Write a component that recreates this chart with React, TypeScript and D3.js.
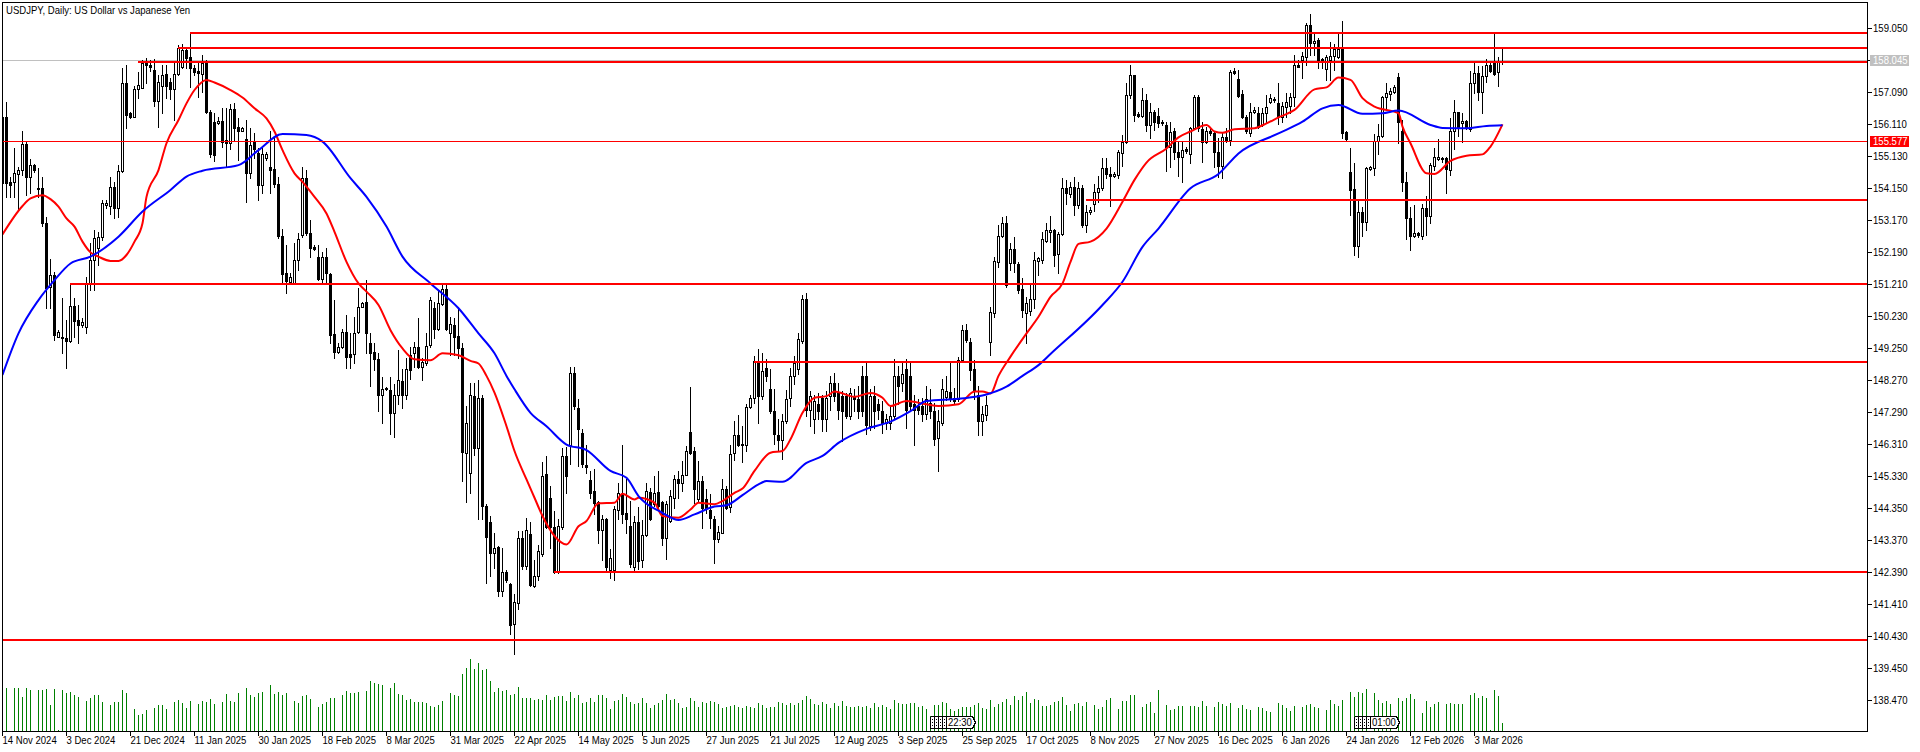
import React from "react";
import * as d3 from "d3";

type Row = [number, number, number, number];

const WIDTH = 1920;
const HEIGHT = 752;

const title = "USDJPY, Daily:  US Dollar vs Japanese Yen";

const dateLabels = ["14 Nov 2024","3 Dec 2024","21 Dec 2024","11 Jan 2025","30 Jan 2025","18 Feb 2025","8 Mar 2025","31 Mar 2025","22 Apr 2025","14 May 2025","5 Jun 2025","27 Jun 2025","21 Jul 2025","12 Aug 2025","3 Sep 2025","25 Sep 2025","17 Oct 2025","8 Nov 2025","27 Nov 2025","16 Dec 2025","6 Jan 2026","24 Jan 2026","12 Feb 2026","3 Mar 2026"];
const priceTicks = ["159.050","158.070","157.090","156.110","155.130","154.150","153.170","152.190","151.210","150.230","149.250","148.270","147.290","146.310","145.330","144.350","143.370","142.390","141.410","140.430","139.450","138.470"];

// open, high, low, close per daily bar
const candlesA: Row[] = [
[156.32,156.32,153.8,154.28],[156.32,156.78,153.87,154.28],[154.33,154.49,153.87,154.23],[154.31,155.35,153.87,154.59],[154.57,154.79,153.47,154.69],[154.69,155.88,154.54,155.49],[155.49,155.56,153.93,154.49],[154.49,155.02,153.98,154.84],[154.84,154.89,154.64,154.69],[154.13,154.74,153.87,154.13],
[154.13,154.49,152.99,153.06],[153.06,153.26,150.46,151.07],[151.10,151.96,150.46,151.48],[151.48,151.58,149.49,149.64],[149.59,149.79,149.57,149.74],[149.59,150.76,149.08,149.54],[149.54,150.10,148.64,149.47],[149.47,151.20,149.44,150.53],[150.53,150.76,149.59,150.08],[150.10,150.56,149.39,149.95],
[149.95,150.15,149.90,150.04],[149.90,151.43,149.71,151.20],[151.20,152.45,151.02,151.94],[151.94,152.85,151.02,152.60],[152.29,152.80,151.78,152.65],[152.65,153.77,152.55,153.67],[153.61,153.77,153.52,153.67],[153.59,154.49,153.36,154.16],[154.16,154.33,153.21,153.52],[153.52,154.84,153.26,154.67],
[154.67,157.80,154.64,157.34],[157.34,157.91,155.97,156.37],[156.43,156.48,156.27,156.32],[156.32,157.26,156.30,157.16],[157.16,157.70,156.89,157.29],[157.21,158.06,157.19,157.96],[157.96,158.11,157.34,157.90],[157.90,158.06,157.73,157.85],[157.75,158.08,156.65,156.80],[156.80,157.60,156.02,157.37],
[157.27,157.91,156.43,157.61],[157.63,157.91,156.89,157.27],[157.40,157.50,156.85,157.16],[157.16,157.96,156.22,157.63],[157.63,158.52,157.60,158.42],[157.85,158.54,157.80,158.37],[158.37,158.47,157.80,158.11],[158.14,158.91,157.22,157.80],[157.80,157.91,157.60,157.70],[157.72,157.96,156.92,157.65],
[157.63,158.21,157.09,157.98],[157.98,158.06,156.43,156.48],[156.48,156.53,155.10,155.18],[156.17,156.43,154.98,155.15],[156.12,156.32,156.10,156.20],[156.20,156.58,155.41,155.56],[155.61,156.58,154.81,155.51],[155.51,156.71,155.34,156.55],[156.55,156.75,155.61,155.97],[156.02,156.27,155.00,155.87],
[155.90,156.02,155.87,155.97],[155.63,156.22,153.72,154.59],[154.59,155.97,154.44,155.46],[155.56,155.82,155.05,155.34],[155.20,155.35,153.77,154.23],[154.23,155.35,153.98,155.18],[155.06,155.25,155.00,155.18],[154.79,155.87,154.00,154.69],[154.72,155.71,154.18,154.25],[154.25,154.49,152.60,152.68],
[152.68,152.90,151.22,151.51],[151.53,152.40,150.94,151.30],[151.27,151.53,151.22,151.43],[151.22,152.45,151.20,151.94],[151.94,152.75,151.63,152.58],[152.70,154.79,152.65,154.44],[154.44,154.69,152.70,152.75],[152.75,153.16,152.02,152.29],[152.34,152.40,152.24,152.26],[152.04,152.40,151.32,151.37],
];
const candlesB: Row[] = [
[151.37,152.19,151.22,152.02],[152.02,152.29,151.22,151.53],[151.51,151.53,149.39,149.64],[149.66,150.71,148.93,149.13],[149.13,149.39,149.08,149.28],[149.28,149.84,149.23,149.72],[149.72,150.25,148.62,148.96],[149.06,149.69,148.62,148.96],[149.06,150.20,148.77,149.69],[149.72,151.07,149.69,150.51],
[150.49,150.66,150.49,150.61],[150.66,151.32,149.08,149.69],[149.39,149.69,148.08,149.08],[149.13,149.39,148.57,148.90],[148.90,149.08,147.31,147.82],[147.82,148.36,146.96,147.98],[147.98,148.06,147.96,148.03],[147.96,148.36,146.60,147.26],[147.26,148.13,146.52,147.79],[147.79,149.18,147.54,148.26],
[148.23,148.59,147.41,147.80],[147.79,148.93,147.69,148.59],[149.03,149.28,148.31,148.57],[149.10,149.44,148.67,149.28],[149.28,150.15,148.62,148.67],[148.67,148.93,148.26,148.82],[148.77,149.69,148.72,149.30],[149.33,150.81,149.28,150.71],[150.46,150.66,149.54,149.84],[149.84,151.02,149.79,150.61],
[150.59,151.22,150.56,151.04],[151.04,151.22,149.79,149.84],[149.69,150.20,149.03,149.98],[149.95,150.15,149.03,149.59],[149.61,150.46,148.93,149.23],[149.23,149.39,145.17,146.06],[146.04,147.47,144.53,146.96],[145.43,148.16,144.81,147.82],[147.77,148.16,145.96,146.19],[146.19,148.26,144.00,147.72],
[147.72,147.79,144.00,144.41],[144.42,144.46,142.06,143.47],[143.92,144.10,142.26,142.97],[142.97,143.59,142.52,143.13],[143.15,143.18,141.65,141.80],[141.80,143.11,141.65,142.38],[142.38,142.44,142.08,142.14],[142.01,142.06,140.48,140.76],[140.81,141.70,139.89,141.48],[141.45,143.64,141.24,143.44],
[143.44,143.64,142.49,142.57],[142.57,144.03,142.49,143.66],[143.54,143.91,141.96,141.98],[141.96,142.77,141.94,142.26],[142.26,143.20,142.14,143.03],[142.93,145.75,142.88,145.34],[145.40,145.94,143.74,143.77],[144.64,145.02,143.13,143.77],[143.77,144.25,142.37,142.40],[142.40,144.00,142.37,143.81],
[143.77,146.19,143.69,145.94],[145.94,146.22,144.81,145.34],[146.29,148.67,145.68,148.47],[148.47,148.67,147.37,147.47],[147.42,147.67,145.63,146.75],[146.63,146.75,145.61,145.68],[145.66,146.29,145.42,145.61],[145.19,145.48,144.66,144.81],[144.87,145.53,144.15,144.51],[144.53,144.56,143.28,143.66],
[143.66,144.12,142.77,144.00],[144.00,144.05,142.41,142.54],[142.44,143.08,142.21,142.82],[142.44,144.41,142.13,144.33],[144.27,145.10,144.00,144.81],[144.79,146.29,143.90,144.17],[144.18,145.22,143.59,144.02],[143.79,144.56,142.54,142.62],[142.54,144.10,142.41,143.91],[143.91,144.38,142.47,142.72],
];
const candlesC: Row[] = [
[142.74,143.98,142.55,143.51],[143.51,145.10,143.49,144.86],[144.83,144.97,143.98,144.00],[144.46,145.33,144.41,144.81],[144.83,145.48,144.35,144.41],[144.53,144.56,143.20,143.44],[143.44,144.56,142.79,144.46],[143.95,144.89,143.93,144.71],[144.66,145.37,144.35,145.22],[145.22,145.48,144.66,145.10],
[145.10,145.78,144.86,145.35],[145.37,146.24,145.35,146.09],[146.67,148.05,145.99,146.02],[146.09,146.22,144.51,144.92],[144.61,145.78,144.56,145.17],[145.17,145.32,143.74,144.35],[144.63,144.92,144.20,144.35],[144.30,144.76,143.74,144.05],[144.02,144.10,142.67,143.39],[143.39,143.79,143.31,143.61],
[143.59,145.24,143.57,144.92],[144.92,145.02,144.32,144.35],[144.39,146.26,144.22,146.01],[146.02,147.01,145.81,146.57],[146.57,147.18,146.24,146.29],[146.32,146.85,145.76,146.26],[146.26,147.52,146.09,147.44],[147.44,147.79,147.42,147.72],[147.72,148.99,147.55,148.85],[148.79,149.20,146.94,147.77],
[147.77,149.10,147.67,148.54],[148.64,148.90,148.23,148.39],[147.98,148.59,147.26,147.33],[147.31,147.98,146.31,146.60],[146.57,147.06,146.12,146.43],[146.43,147.21,145.85,147.01],[147.01,147.96,146.96,147.67],[147.72,148.64,147.47,148.39],[148.39,148.99,148.13,148.79],[148.59,149.71,148.44,149.51],
[149.46,150.88,149.41,150.73],[150.73,150.92,147.16,147.36],[147.36,147.93,146.85,147.77],[147.06,147.82,146.63,147.62],[147.52,147.87,147.06,147.31],[147.72,147.82,146.70,147.06],[147.08,147.93,146.70,147.72],[147.77,148.39,147.36,148.16],[148.18,148.49,147.62,147.77],[147.87,148.18,147.06,147.36],
[147.77,147.93,146.39,147.33],[147.77,147.87,147.11,147.16],[147.16,148.03,147.08,147.87],[147.77,147.98,147.31,147.67],[147.69,148.08,147.11,147.31],[148.39,148.69,147.16,147.31],[148.39,148.79,146.60,146.90],[146.85,147.98,146.73,147.77],[147.77,148.08,146.80,147.31],[147.52,147.67,147.06,147.36],
[147.31,147.62,146.65,146.96],[146.96,147.21,146.75,147.06],[146.96,147.47,146.77,147.16],[147.16,148.90,147.11,148.39],[148.39,148.69,147.52,148.08],[148.18,148.79,147.93,148.44],[148.59,148.90,146.80,147.36],[148.39,148.79,147.36,147.47],[147.52,147.82,146.29,147.36],[147.47,147.67,147.21,147.36],
[147.47,147.72,147.01,147.21],[147.21,148.08,147.06,147.67],[147.57,147.98,147.11,147.31],[147.31,147.57,146.26,146.45],[146.48,147.36,145.48,147.01],[146.96,148.28,146.90,147.98],[147.75,148.39,147.65,147.93],[147.89,148.79,147.62,147.67],[147.72,148.03,147.57,147.62],[147.67,148.98,147.62,148.87],
[148.87,149.95,148.82,149.79],[149.79,149.98,149.44,149.49],[149.44,149.54,148.26,148.57],[148.59,148.87,147.67,147.93],[147.79,148.08,146.58,147.01],[147.01,147.47,146.58,147.21],[147.18,147.77,147.04,147.49],
];
const candlesD: Row[] = [
[149.44,150.51,149.03,150.35],[150.33,152.04,150.18,151.91],[151.89,153.01,151.73,152.68],[152.68,153.26,152.65,153.06],[153.06,153.28,151.12,151.17],[151.83,152.45,151.63,152.27],[152.27,152.63,151.58,151.83],[151.81,151.89,150.92,151.02],[151.04,151.40,150.20,150.40],[150.32,150.81,149.39,150.63],
[150.38,151.22,150.25,150.73],[150.73,152.19,150.46,151.94],[151.91,152.04,151.48,151.99],[151.94,152.80,151.83,152.57],[152.53,153.06,152.50,152.87],[152.80,153.28,152.50,152.87],[152.87,152.90,151.75,152.09],[152.11,152.80,151.55,152.72],[152.72,154.44,152.70,154.13],[154.13,154.38,153.65,154.00],
[153.95,154.33,153.87,154.18],[154.18,154.49,153.31,153.62],[153.62,154.33,153.52,154.13],[154.13,154.23,152.96,153.01],[153.01,153.62,152.80,153.42],[153.40,153.57,153.36,153.47],[153.65,154.25,153.45,154.03],[154.03,154.51,153.72,154.13],[154.13,155.05,154.08,154.76],[154.76,155.05,154.44,154.57],
[154.57,154.79,153.60,154.52],[154.52,154.62,154.49,154.56],[154.54,155.30,154.44,155.25],[155.22,155.76,154.82,155.56],[155.54,157.34,155.51,156.99],[156.99,157.91,156.89,157.60],[157.60,157.60,156.20,156.37],[156.40,156.48,156.32,156.35],[156.35,157.19,156.32,156.84],[156.84,157.02,155.89,156.07],
[156.07,156.73,155.66,156.46],[156.48,156.53,155.92,156.17],[156.35,156.58,156.00,156.14],[156.13,156.22,156.07,156.15],[156.07,156.17,154.67,155.41],[155.41,156.17,154.79,155.84],[155.87,155.97,155.02,155.23],[155.23,155.56,154.52,155.10],[155.10,155.56,154.33,155.30],[155.32,155.41,155.20,155.28],
[155.17,156.02,154.90,155.97],[155.97,156.99,155.94,156.92],[156.94,156.99,155.87,155.97],[155.94,156.17,154.95,155.56],[155.56,156.02,155.51,155.87],[155.90,155.97,155.76,155.82],[155.82,155.87,154.79,155.25],[155.25,155.66,154.49,154.81],[154.81,155.82,154.44,155.69],[155.71,155.97,155.56,155.61],
[155.61,157.75,155.46,157.70],[157.73,157.80,157.63,157.67],[157.47,157.75,156.94,156.97],[157.01,157.14,156.27,156.30],[156.30,156.37,155.82,155.90],[155.82,156.73,155.73,156.48],[156.48,156.63,156.43,156.53],[156.45,156.63,155.97,156.02],[156.07,156.58,156.04,156.45],[156.43,156.99,156.12,156.63],
[156.78,157.01,156.73,156.89],[156.82,156.94,156.78,156.87],[156.73,157.34,156.10,156.32],
];
const candlesE: Row[] = [
[156.30,156.78,156.17,156.65],[156.63,157.04,156.32,156.78],[156.65,157.06,156.43,156.94],[156.94,158.21,156.65,157.91],[157.91,158.06,157.83,157.85],[158.06,158.31,157.50,158.19],[158.16,159.18,157.91,159.13],[159.13,159.47,158.21,158.59],[158.59,158.88,158.21,158.65],[158.67,158.72,157.80,158.06],
[158.08,158.11,157.80,158.03],[157.78,158.21,157.45,158.16],[158.06,158.60,157.45,158.18],[158.19,158.55,157.75,158.39],[158.16,158.88,158.11,158.39],[158.42,159.26,155.68,155.82],[155.84,155.87,155.61,155.63],[154.62,155.35,153.31,154.08],[154.10,154.90,152.09,152.37],[152.37,153.77,152.04,153.40],
[153.40,153.57,152.67,153.11],[153.11,154.79,152.85,154.76],[154.72,154.82,154.69,154.77],[154.74,155.78,154.54,155.59],[155.59,156.10,155.18,155.73],[155.74,156.96,155.71,156.92],[156.92,157.34,156.53,157.04],[157.02,157.19,156.84,157.12],[157.09,157.29,157.06,157.22],[157.53,157.65,155.53,156.17],
[155.87,156.22,154.06,154.33],[154.33,154.64,152.57,153.21],[153.21,153.57,152.24,152.67],[152.67,153.62,152.63,152.75],[152.75,152.80,152.63,152.69],[152.67,153.65,152.58,153.52],[153.52,153.91,152.70,153.28],[153.28,154.90,153.06,154.85],[154.82,155.35,154.69,155.08],[155.04,155.63,155.00,155.08],
[155.04,155.10,154.95,155.07],[155.05,155.10,154.00,154.71],[154.69,156.27,154.54,155.88],[155.87,156.84,155.33,156.46],[156.46,156.48,155.73,156.00],[156.14,156.43,155.54,156.20],[156.19,156.22,155.94,155.97],[155.94,157.73,155.89,157.34],[157.34,157.99,157.04,157.67],[157.65,157.89,156.84,157.09],
[157.09,157.89,156.45,157.57],[157.57,158.08,157.37,157.91],[157.91,157.96,157.70,157.73],[157.98,158.85,157.60,157.63],[157.70,158.16,157.26,158.01],[158.02,158.42,157.94,158.04],
];

const volumesA = [0,128,0,129,129,102,129,123,0,123,123,126,78,126,3,123,114,117,108,102,0,90,99,108,108,87,0,78,87,87,123,114,0,66,48,51,63,0,69,78,78,66,0,87,93,84,69,90,0,81,90,87,96,81,0,87,111,90,87,114,0,129,108,102,114,117,3,138,111,117,108,114,0,90,84,105,108,96,0,72,81,87,99,99,0,108,120,114,114,117,0,120,150,144,141,138,0,129,144,111,108,93,96,87,87,87,84,75,72,78,90,0];
const volumesB = [114,108,105,171,189,216,186,204,183,186,150,117,129,120,123,108,111,132,100,100,99,93,96,93,108,93,102,105,105,90,117,99,108,84,87,99,87,108,108,99,66,90,93,111,102,87,81,84];
const volumesC = [99,84,70,78,84,93,111,93,96,84,69,72,99,90,72,87,84,90,87,81,69,72,75,78,72,69,75,72,69,84,78,69,72,72,87,84,78,84,78,84,93,105,96,81,78,87,81,69,84,75,90,75,72,72,75,72,75,69,84,72,78,72,65,93,84,81,81,84,84,72,75,65,45,78,78,87,84,65,60,65,72,72,72,78,84,69,66,93,72,81,87,96,78,105,93,105,117,84,96,93,75,75,78,87,90,102,78,60,81,84,75,87,0,78,66,72,93,99,0,65,90,90,108,108,0,72,81,87,54,123,0,78,63,66,75,75,0,75,75,72,90,75,0,72,87,81,75,84,0,69,78,66,63,0,72,69,60,57,0,84];
const volumesD = [78,69,60,75,0,72,78,81,72,69,0,63,93,81,75,93,0,117,102,117,114,126,0,114,93,84,90,81,0,99,90,99,111,96,0,54,90,72,81,87,0,81,84,81,81,81,0,108,114,99,105,99,3,123,105,24];

const fastMa: [number, number][] = [[0,152.72],[5,153.59],[7,153.82],[10,153.92],[12,153.80],[14,153.57],[16,153.21],[18,152.96],[20,152.50],[22,152.17],[24,152.04],[27,151.91],[29,151.91],[31,152.09],[33,152.50],[35,153.06],[36,153.87],[39,154.69],[41,155.51],[44,156.22],[46,156.73],[48,157.14],[51,157.45],[53,157.37],[57,157.14],[60,156.91],[63,156.58],[66,156.27],[68,155.87],[70,155.30],[73,154.59],[75,154.33],[78,153.87],[81,153.36],[83,152.80],[86,151.88],[89,151.22],[91,150.97],[94,150.56],[97,149.79],[100,149.23],[103,148.90],[107,148.87],[110,149.08],[114,149.02],[117,148.85],[119,148.77],[121,148.39],[123,147.88],[126,146.85],[128,146.09],[131,145.22],[133,144.66],[135,144.10],[138,143.49],[141,143.23],[144,143.79],[146,143.95],[149,144.49],[153,144.51],[155,144.78],[158,144.61],[159,144.66],[163,144.51],[165,144.10],[169,144.05],[172,144.30],[174,144.51],[178,144.46],[180,144.56],[183,144.81],[185,144.94],[188,145.48],[192,146.04],[195,146.09],[197,146.45],[200,147.26],[203,147.72],[206,147.77],[208,147.91],[213,147.75],[217,147.87],[220,147.72],[222,147.47],[226,147.62],[231,147.52],[234,147.47],[239,147.52],[243,147.91],[245,147.91],[247,147.85],[249,148.39],[252,148.98],[256,149.69],[259,150.20],[262,150.81],[265,151.22],[267,151.88],[269,152.43],[272,152.50],[276,152.90],[280,153.72],[283,154.39],[286,154.92],[291,155.35],[294,155.69],[297,155.87],[301,156.07],[303,155.87],[305,155.83],[308,155.94],[313,155.97],[316,156.12],[319,156.30],[323,156.53],[328,157.16],[331,157.22],[334,157.52],[337,157.45],[340,156.89],[343,156.63],[349,156.43],[350,156.02],[352,155.51],[356,154.59],[358,154.57],[362,154.97],[366,155.13],[370,155.17],[372,155.41],[375,156.09]];
const slowMa: [number, number][] = [[0,148.42],[4,149.69],[9,150.71],[13,151.32],[17,151.83],[22,152.04],[29,152.65],[35,153.42],[42,154.08],[46,154.49],[50,154.67],[59,154.84],[64,155.30],[70,155.79],[76,155.76],[80,155.56],[87,154.44],[91,153.87],[96,152.96],[100,152.04],[107,151.22],[114,150.46],[119,149.69],[123,149.08],[126,148.39],[128,147.98],[132,147.26],[136,146.85],[141,146.29],[146,146.12],[152,145.48],[156,145.27],[159,144.71],[165,144.20],[169,143.98],[173,144.15],[178,144.39],[181,144.43],[185,144.74],[189,145.07],[191,145.17],[195,145.15],[201,145.73],[205,145.94],[209,146.34],[216,146.77],[222,146.99],[227,147.31],[231,147.62],[239,147.69],[246,147.82],[251,148.06],[255,148.39],[259,148.72],[262,149.06],[275,150.56],[280,151.27],[285,152.34],[289,152.90],[297,154.13],[304,154.57],[309,155.20],[319,155.81],[325,156.17],[330,156.58],[334,156.68],[340,156.41],[345,156.43],[349,156.51],[357,156.07],[360,155.98],[366,155.97],[371,156.04],[375,156.06]];

const levelPrices = [158.885, 158.43, 158.01, 153.77, 151.20, 148.81, 142.39, 140.30];
const levelStartBars = [47, 44, 34, 271, 17, 188, 138, -1];

const askPrice = 158.045;
const bidPrice = 155.577;
const timeMarks = [{ bar: 236, label: "22:30" }, { bar: 342, label: "01:00" }];

const candles: Row[] = [...candlesA, ...candlesB, ...candlesC, ...candlesD, ...candlesE];
const volumes = [...volumesA, ...volumesB, ...volumesC, ...volumesD];

const plotLeft = 2, plotTop = 2, plotRight = 1867, plotBottom = 731;
const x = d3.scaleLinear().domain([0, 375]).range([2, 1502]);
const y = d3.scaleLinear().domain([159.05, 138.47]).range([27.6, 700]);
const vy = d3.scaleLinear().domain([0, 216]).range([plotBottom, plotBottom - 72]);
const px = (v: number) => Math.round(y(v));
const line = d3.line<[number, number]>().x((d) => x(d[0]) + 0.5).y((d) => y(d[1])).curve(d3.curveMonotoneX);

const FONT = "'Liberation Sans', sans-serif";
const sx = 0.87;

function Label({ tx, ty, text, fill = "#000", size = 11 }: { tx: number; ty: number; text: string; fill?: string; size?: number }) {
  return (
    <text transform={`translate(${tx},${ty}) scale(${sx},1)`} fontFamily={FONT} fontSize={size} fill={fill}>
      {text}
    </text>
  );
}

export default function App() {
  return (
    <svg width={WIDTH} height={HEIGHT} style={{ position: "absolute", left: 0, top: 0, background: "#fff" }}>
      <defs>
        <clipPath id="plot"><rect x={plotLeft} y={plotTop} width={plotRight - plotLeft} height={plotBottom - plotTop} /></clipPath>
      </defs>
      <Label tx={6} ty={14} text={title} />
      <g clipPath="url(#plot)">
        <g shapeRendering="crispEdges">
          {volumes.map((v, i) => v > 0 && (
            <rect key={i} x={x(i)} y={Math.round(vy(v))} width={1} height={plotBottom - Math.round(vy(v))} fill="#008000" />
          ))}
          <line x1={plotLeft} x2={plotRight} y1={px(askPrice) + 0.5} y2={px(askPrice) + 0.5} stroke="#c0c0c0" />
          {candles.map(([o, h, l, c], i) => {
            const cx = x(i);
            const top = px(Math.max(o, c));
            const bot = px(Math.min(o, c));
            const bull = c >= o;
            return (
              <g key={i}>
                <line x1={cx + 0.5} x2={cx + 0.5} y1={px(h)} y2={px(l) + 1} stroke="#000" />
                {bull ? (
                  <rect x={cx - 0.5} y={top + 0.5} width={2} height={Math.max(bot - top, 1)} fill="#fff" stroke="#000" />
                ) : (
                  <rect x={cx - 1} y={top} width={3} height={Math.max(bot - top + 1, 1)} fill="#000" />
                )}
              </g>
            );
          })}
        </g>
        <path d={line(fastMa) ?? ""} fill="none" stroke="#ff0000" strokeWidth={2} />
        <path d={line(slowMa) ?? ""} fill="none" stroke="#0000ff" strokeWidth={2} />
        <g shapeRendering="crispEdges">
          <line x1={plotLeft} x2={plotRight} y1={px(bidPrice) + 0.5} y2={px(bidPrice) + 0.5} stroke="#ff0000" />
          {levelPrices.map((p, i) => (
            <rect key={i} x={levelStartBars[i] < 0 ? plotLeft : x(levelStartBars[i])} y={px(p) - 1} width={plotRight - (levelStartBars[i] < 0 ? plotLeft : x(levelStartBars[i]))} height={2} fill="#ff0000" />
          ))}
        </g>
        {timeMarks.map((m) => {
          const mx = x(m.bar);
          const my = 716;
          return (
            <g key={m.label}>
              {[-16, -12, -8, -4].map((d) => (
                <g key={d} shapeRendering="crispEdges" fill="none" stroke="#000">
                  <path d={`M${mx + d + 0.5},${my + 0.5}H${mx + 0.5}`} />
                  <path d={`M${mx + d + 0.5},${my + 12.5}H${mx + 0.5}`} />
                  <path d={`M${mx + d + 0.5},${my + 0.5}V${my + 12.5}`} />
                  <path d={`M${mx + d + 2.5},${my + 3}V${my + 11}`} strokeDasharray="1 2" />
                </g>
              ))}
              <path d={`M${mx + 0.5},${my + 0.5}H${mx + 26.5}L${mx + 29.5},${my + 6.5}L${mx + 26.5},${my + 12.5}H${mx + 0.5}Z`} fill="#fff" stroke="#000" shapeRendering="crispEdges" />
              <Label tx={mx + 2} ty={my + 10} text={m.label} />
            </g>
          );
        })}
      </g>
      <g shapeRendering="crispEdges" stroke="#000" fill="none">
        <path d={`M${plotLeft + 0.5},${plotTop + 0.5}H${plotRight + 0.5}V${plotBottom + 0.5}H${plotLeft + 0.5}Z`} />
        {dateLabels.map((_, i) => {
          const tx = x(i * 16) + 0.5;
          return <line key={i} x1={tx} x2={tx} y1={plotBottom} y2={plotBottom + 5} />;
        })}
        {priceTicks.map((t) => {
          const ty = px(+t) + 0.5;
          return <line key={t} x1={plotRight} x2={plotRight + 5} y1={ty} y2={ty} />;
        })}
      </g>
      {dateLabels.map((d, i) => <Label key={d} tx={x(i * 16) + 0.5} ty={plotBottom + 13} text={d} />)}
      {priceTicks.map((t) => <Label key={t} tx={plotRight + 6} ty={px(+t) + 4} text={t} />)}
      <rect x={1870} y={55} width={39} height={11} fill="#c0c0c0" shapeRendering="crispEdges" />
      <Label tx={plotRight + 6} ty={px(askPrice) + 4} text={askPrice.toFixed(3)} fill="#fff" />
      <rect x={1870} y={136} width={39} height={11} fill="#ff0000" shapeRendering="crispEdges" />
      <Label tx={plotRight + 6} ty={px(bidPrice) + 4} text={bidPrice.toFixed(3)} fill="#fff" />
    </svg>
  );
}
